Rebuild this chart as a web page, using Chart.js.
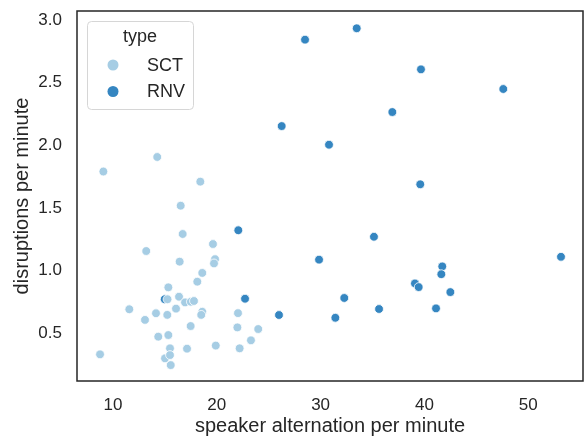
<!DOCTYPE html>
<html>
<head>
<meta charset="utf-8">
<script src="https://cdn.jsdelivr.net/npm/chart.js@4.4.1/dist/chart.umd.min.js"></script>
<style>
  html, body { margin: 0; padding: 0; background: #ffffff; }
  #wrap { width: 584px; height: 440px; }
</style>
</head>
<body>
<div id="wrap"><canvas id="c" width="584" height="440"></canvas></div>
<script>
// Speaker alternation (x) vs. disruptions per minute (y), by session type
const seriesNames = ['SCT', 'RNV'];

const sctAlternation = [8.75, 9.07, 11.57, 13.2, 13.08, 14.14, 14.26, 14.36, 15.33, 15.23,
  15.33, 15.49, 15.01, 15.49, 15.56, 16.36, 16.94, 17.5, 17.8, 16.07,
  16.42, 16.52, 16.71, 17.48, 17.13, 18.12, 18.6, 18.6, 18.5, 18.41,
  19.63, 19.83, 19.73, 19.9, 21.98, 22.04, 22.2, 23.29, 23.99, 15.25];
const sctDisruptions = [0.33, 1.79, 0.69, 1.155, 0.605, 0.658, 1.906, 0.471, 0.865, 0.645,
  0.484, 0.378, 0.298, 0.324, 0.244, 0.79, 0.745, 0.75, 0.756, 0.695,
  1.07, 1.517, 1.291, 0.556, 0.375, 0.91, 0.98, 0.67, 0.645, 1.709,
  1.211, 1.09, 1.056, 0.40, 0.545, 0.659, 0.378, 0.442, 0.532, 0.77];

const rnvAlternation = [33.48, 28.5, 39.67, 47.6, 36.91, 26.25, 30.81, 39.6, 35.14, 29.85,
  53.16, 41.72, 41.63, 39.09, 39.45, 42.5, 32.28, 25.99, 31.42, 35.63,
  41.12, 22.07, 22.72, 14.98];
const rnvDisruptions = [2.934, 2.843, 2.606, 2.449, 2.265, 2.153, 2.004, 1.688, 1.269, 1.086,
  1.109, 1.032, 0.97, 0.896, 0.867, 0.827, 0.78, 0.644, 0.622, 0.692,
  0.697, 1.321, 0.774, 0.77];

const xTickValues = [10, 20, 30, 40, 50];
const yTickValues = [0.5, 1.0, 1.5, 2.0, 2.5, 3.0];

const COLORS = ['#a6cde4', '#3586c1'];
const INK = '#262626';
const FONT = '"Liberation Sans", Arial, sans-serif';

function toPoints(xs, ys) { return xs.map((x, i) => ({ x: x, y: ys[i] })); }

// Keep the axes from reserving extra room for their outer tick labels
function noScalePadding(s) {
  s.paddingTop = 0; s.paddingBottom = 0; s.paddingLeft = 0; s.paddingRight = 0;
}

// Full box around the plotting area
const frame = {
  id: 'frame',
  afterDatasetsDraw(chart) {
    const a = chart.chartArea, ctx = chart.ctx;
    ctx.save();
    ctx.strokeStyle = INK;
    ctx.lineWidth = 1.5;
    ctx.strokeRect(a.left, a.top, a.right - a.left, a.bottom - a.top);
    ctx.restore();
  }
};

// Boxed legend with a title, in the upper left of the plot
const boxLegend = {
  id: 'boxLegend',
  afterDraw(chart) {
    const a = chart.chartArea, ctx = chart.ctx;
    const x0 = a.left + 10, y0 = a.top + 10, w = 106, h = 88;
    ctx.save();
    ctx.beginPath();
    ctx.roundRect(x0 + 0.5, y0 + 0.5, w, h, 4);
    ctx.fillStyle = 'rgba(255,255,255,0.8)';
    ctx.fill();
    ctx.strokeStyle = '#d6d6d6';
    ctx.lineWidth = 1;
    ctx.stroke();
    ctx.fillStyle = INK;
    ctx.font = '18px ' + FONT;
    ctx.textBaseline = 'middle';
    ctx.textAlign = 'center';
    ctx.fillText('type', x0 + 53, y0 + 16);
    chart.data.datasets.forEach((ds, i) => {
      const cy = y0 + 44 + i * 26.5;
      ctx.beginPath();
      ctx.arc(x0 + 26, cy, 5.5, 0, Math.PI * 2);
      ctx.fillStyle = ds.backgroundColor;
      ctx.fill();
      ctx.fillStyle = INK;
      ctx.textAlign = 'left';
      ctx.fillText(ds.label, x0 + 60, cy + 1);
    });
    ctx.restore();
  }
};

new Chart(document.getElementById('c'), {
  type: 'scatter',
  data: {
    datasets: [
      { label: seriesNames[0], data: toPoints(sctAlternation, sctDisruptions), backgroundColor: COLORS[0] },
      { label: seriesNames[1], data: toPoints(rnvAlternation, rnvDisruptions), backgroundColor: COLORS[1] }
    ]
  },
  options: {
    responsive: false,
    animation: false,
    devicePixelRatio: 1,
    layout: { autoPadding: false, padding: { top: 11, right: 1, left: 0, bottom: 0 } },
    elements: { point: { radius: 4.4, borderWidth: 0.8, borderColor: '#ffffff', hoverRadius: 4.4 } },
    plugins: { legend: { display: false }, tooltip: { enabled: false } },
    scales: {
      x: {
        type: 'linear', min: 6.53, max: 55.28,
        grid: { display: false, drawTicks: false },
        border: { display: false },
        afterBuildTicks(s) { s.ticks = xTickValues.map(v => ({ value: v })); },
        afterFit(s) { s.height = 59; noScalePadding(s); },
        ticks: { color: INK, padding: 14, maxRotation: 0, font: { family: FONT, size: 17 } },
        title: { display: true, text: 'speaker alternation per minute', color: INK,
                 font: { family: FONT, size: 20 }, padding: { top: 0, bottom: 2 } }
      },
      y: {
        type: 'linear', min: 0.117, max: 3.072,
        grid: { display: false, drawTicks: false },
        border: { display: false },
        afterBuildTicks(s) { s.ticks = yTickValues.map(v => ({ value: v })); },
        afterFit(s) { s.width = 77; noScalePadding(s); },
        ticks: { color: INK, padding: 15, font: { family: FONT, size: 17 },
                 callback: v => v.toFixed(1) },
        title: { display: true, text: 'disruptions per minute', color: INK,
                 font: { family: FONT, size: 20 }, padding: { top: 10, bottom: 0 } }
      }
    }
  },
  plugins: [frame, boxLegend]
});
</script>
</body>
</html>
